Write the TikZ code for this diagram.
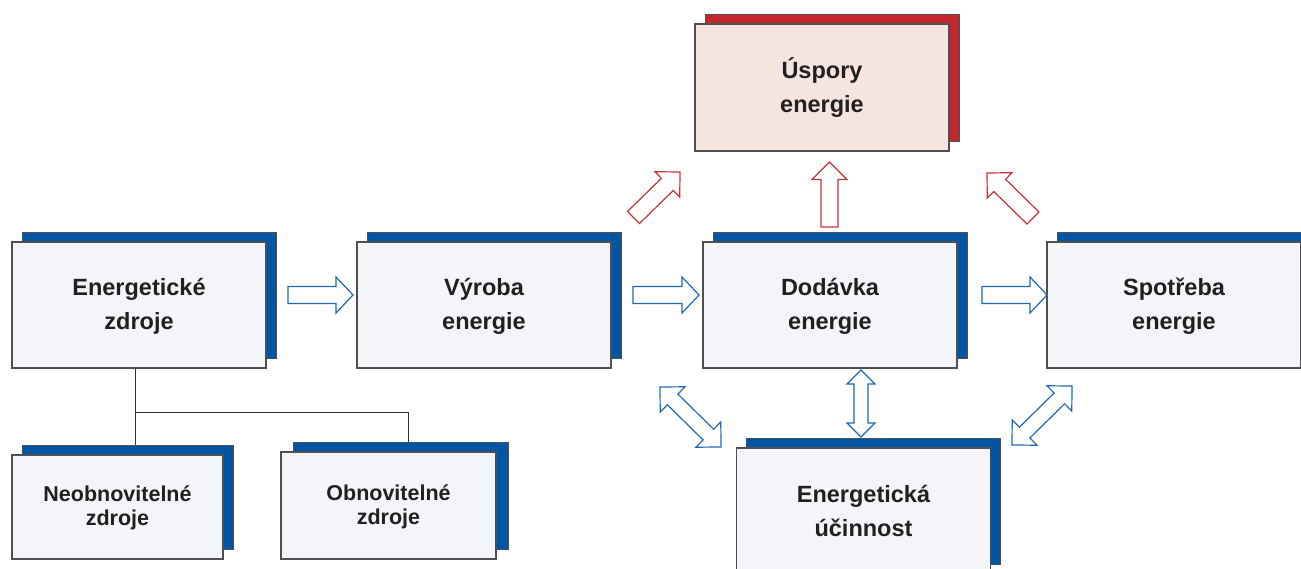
\documentclass[tikz,border=0pt]{standalone}
\usepackage{fontspec}
\setmainfont{Liberation Sans}
\usetikzlibrary{calc,shadows,backgrounds}
\definecolor{boxblue}{HTML}{0055A5}
\definecolor{boxred}{HTML}{C1272D}
\definecolor{boxfill}{HTML}{F4F5F9}
\definecolor{pinkfill}{HTML}{F6E4DE}
\definecolor{arrblue}{HTML}{1F68B5}
\definecolor{arrred}{HTML}{C8313E}
\definecolor{txt}{HTML}{231F20}
\definecolor{edge}{HTML}{505050}
\definecolor{lineclr}{HTML}{333333}
\newcommand\mytopstrut[1]{\rule{0pt}{#1}}
\newcommand\mybotstrut[1]{\rule[-#1]{0pt}{#1}}
% single block arrow: style, tail, tip, half shaft, half head, head length
\newcommand\blkarrow[6]{%
  \coordinate (bah) at ($(#3)!#6!(#2)$);
  \draw[#1] ($(#2)!#4!90:(#3)$) -- ($(bah)!#4!90:(#3)$) -- ($(bah)!#5!90:(#3)$) -- (#3)
    -- ($(bah)!#5!-90:(#3)$) -- ($(bah)!#4!-90:(#3)$) -- ($(#2)!#4!-90:(#3)$) -- cycle;}
% double block arrow: style, end A, end B, half shaft, half head, head length
\newcommand\dblarrow[6]{%
  \coordinate (dah) at ($(#2)!#6!(#3)$);
  \coordinate (dbh) at ($(#3)!#6!(#2)$);
  \draw[#1] (#2) -- ($(dah)!#5!90:(#3)$) -- ($(dah)!#4!90:(#3)$) -- ($(dbh)!#4!-90:(#2)$)
    -- ($(dbh)!#5!-90:(#2)$) -- (#3) -- ($(dbh)!#5!90:(#2)$) -- ($(dbh)!#4!90:(#2)$)
    -- ($(dah)!#4!-90:(#3)$) -- ($(dah)!#5!-90:(#3)$) -- cycle;}
\tikzset{
  mainbox/.style={draw=edge, line width=1.1pt, fill=boxfill, minimum width=254pt,
    minimum height=126pt, inner sep=0pt, align=center, text=txt,
    font=\fontsize{23.5}{34}\selectfont\bfseries,
    copy shadow={shadow xshift=10pt, shadow yshift=10pt, fill=boxblue, draw=edge, line width=0.7pt}},
  redbox/.style={mainbox, fill=pinkfill,
    copy shadow={shadow xshift=10pt, shadow yshift=10pt, fill=boxred, draw=edge, line width=0.7pt}},
  smallbox/.style={draw=edge, line width=1.1pt, fill=boxfill, inner sep=0pt, align=center, text=txt,
    font=\fontsize{21.5}{24}\selectfont\bfseries},
  bluearrow/.style={draw=arrblue, fill=white, line width=1.2pt, line join=miter},
  redarrow/.style={draw=arrred, fill=white, line width=1.2pt, line join=miter},
  conn/.style={draw=lineclr, line width=1pt},
}
\begin{document}
\begin{tikzpicture}[x=1pt, y=-1pt]
\useasboundingbox (0,0) rectangle (1301,569);
% main boxes
\node[mainbox] (ez) at (139,305) {\mytopstrut{22pt}Energetické\\zdroje\mybotstrut{6pt}};
\node[mainbox] (vy) at (484,305) {\mytopstrut{22pt}Výroba\\energie\mybotstrut{6pt}};
\node[mainbox] (do) at (830,305) {\mytopstrut{22pt}Dodávka\\energie\mybotstrut{6pt}};
\node[mainbox] (sp) at (1174,305) {\mytopstrut{22pt}Spotřeba\\energie\mybotstrut{6pt}};
\node[redbox, minimum height=127pt] (us) at (822,87.5) {\mytopstrut{22pt}Úspory\\energie\mybotstrut{6pt}};
\node[mainbox] (eu) at (863.5,511) {\mytopstrut{22pt}Energetická\\účinnost\mybotstrut{6pt}};
% small boxes
\node[smallbox, minimum width=211pt, minimum height=104pt,
  copy shadow={shadow xshift=10pt, shadow yshift=10pt, fill=boxblue, draw=edge, line width=0.7pt}]
  (ne) at (117.5,507) {\mytopstrut{18pt}Neobnovitelné\\zdroje\mybotstrut{5pt}};
\node[smallbox, minimum width=215pt, minimum height=107pt,
  copy shadow={shadow xshift=12pt, shadow yshift=10pt, fill=boxblue, draw=edge, line width=0.7pt}]
  (ob) at (388.5,505.5) {\mytopstrut{18pt}Obnovitelné\\zdroje\mybotstrut{5pt}};
% tree connectors
\coordinate (j) at (135,412);
\coordinate (k) at (408,412);
\begin{pgfonlayer}{background}
\fill[white] (0,0) rectangle (1301,569);
\draw[conn] (ez.south -| j) -- (ne.north -| j);
\draw[conn] (j) -- (k) -- (k |- ob.north);
\end{pgfonlayer}
% arrow end points
\coordinate (a1s) at (288,295);   \coordinate (a1e) at (353,295);
\coordinate (a2s) at (633,295);   \coordinate (a2e) at (699,295);
\coordinate (a3s) at (982,295);   \coordinate (a3e) at (1047,295);
\coordinate (r1s) at (633.5,217.5); \coordinate (r1e) at (680,172);
\coordinate (r2s) at (829.5,227); \coordinate (r2e) at (829.5,162);
\coordinate (r3s) at (1033,218);  \coordinate (r3e) at (987,173);
\coordinate (d1s) at (861,370);   \coordinate (d1e) at (861,437);
\coordinate (d2s) at (660,387);   \coordinate (d2e) at (721,447);
\coordinate (d3s) at (1012,445);  \coordinate (d3e) at (1072,386);
% arrows
\blkarrow{bluearrow}{a1s}{a1e}{8.5pt}{18pt}{17pt}
\blkarrow{bluearrow}{a2s}{a2e}{8.5pt}{18pt}{17pt}
\blkarrow{bluearrow}{a3s}{a3e}{8.5pt}{18pt}{17pt}
\blkarrow{redarrow}{r1s}{r1e}{8.5pt}{17.7pt}{17.7pt}
\blkarrow{redarrow}{r2s}{r2e}{8.5pt}{17.5pt}{17.5pt}
\blkarrow{redarrow}{r3s}{r3e}{8.5pt}{17.7pt}{17.7pt}
\dblarrow{bluearrow}{d1s}{d1e}{7pt}{14pt}{14pt}
\dblarrow{bluearrow}{d2s}{d2e}{7.5pt}{17.7pt}{17.7pt}
\dblarrow{bluearrow}{d3s}{d3e}{7.5pt}{17.7pt}{17.7pt}
\end{tikzpicture}
\end{document}
